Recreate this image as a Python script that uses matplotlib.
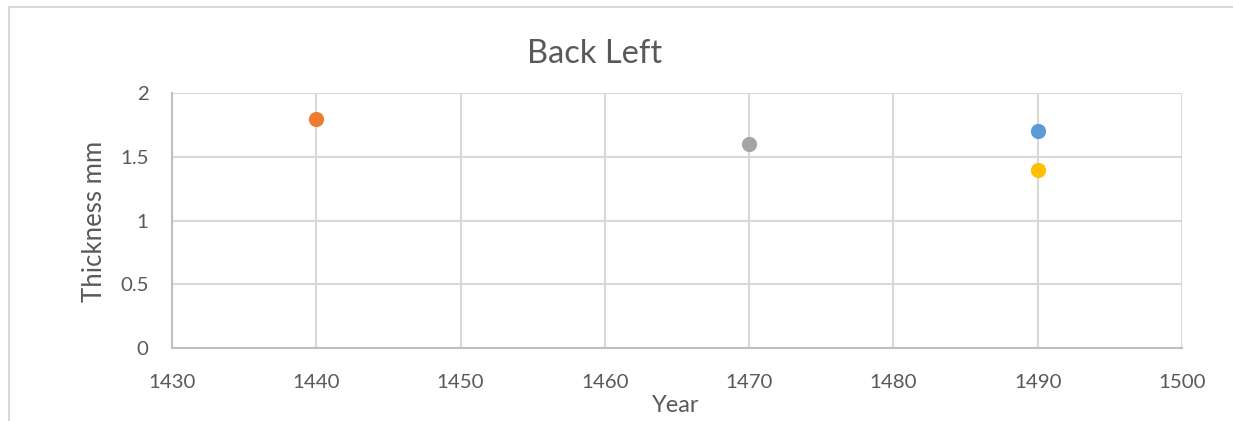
import matplotlib
matplotlib.use("Agg")
from matplotlib import pyplot as plt
from matplotlib.patches import Rectangle

# data
years = [1490, 1440, 1470, 1490]
thickness = [1.7, 1.8, 1.6, 1.4]
colors = ['#5B9BD5', '#ED7D31', '#A5A5A5', '#FFC000']

xticks = [1430, 1440, 1450, 1460, 1470, 1480, 1490, 1500]
yticks = [0, 0.5, 1, 1.5, 2]

plt.rcParams['font.family'] = ['Lato', 'DejaVu Sans']
txt = '#595959'

fig = plt.figure(figsize=(12.33, 4.21), dpi=100)
W, H = 1233, 421
# chart border (cut off on right and bottom)
fig.patches.append(Rectangle((8.5 / W, -0.1), 1.2, (H - 6.5) / H + 0.1,
                             transform=fig.transFigure, fill=False,
                             edgecolor='#d9d9d9', linewidth=1.5))

ax = fig.add_axes([172 / W, 1 - 348 / H, (1182 - 172) / W, (348 - 93) / H])
for x, y, c in zip(years, thickness, colors):
    ax.scatter(x, y, s=120, color=c, zorder=3, linewidths=0)

ax.set_xlim(1430, 1500)
ax.set_ylim(0, 2)
ax.set_xticks(xticks)
ax.set_yticks(yticks)
ax.set_yticklabels(['0', '0.5', '1', '1.5', '2'])
ax.grid(True, color='#d9d9d9', linewidth=1.5, zorder=0)
ax.set_axisbelow(True)
for s in ['top', 'right']:
    ax.spines[s].set_visible(False)
for s in ['left', 'bottom']:
    ax.spines[s].set_color('#bfbfbf')
    ax.spines[s].set_linewidth(1.5)
ax.tick_params(length=0, labelsize=14.7, labelcolor=txt)
ax.tick_params(axis='y', pad=17)
ax.tick_params(axis='x', pad=19)

fig.text(595 / W, 1 - 54 / H, 'Back Left', fontsize=23.5, color=txt,
         ha='center', va='center')
fig.text(676 / W, 1 - 405 / H, 'Year', fontsize=17, color=txt,
         ha='center', va='center')
fig.text(95 / W, 1 - 221 / H, 'Thickness mm', fontsize=18.5, color=txt,
         ha='center', va='center', rotation=90)

fig.savefig('out.png', dpi=100)
